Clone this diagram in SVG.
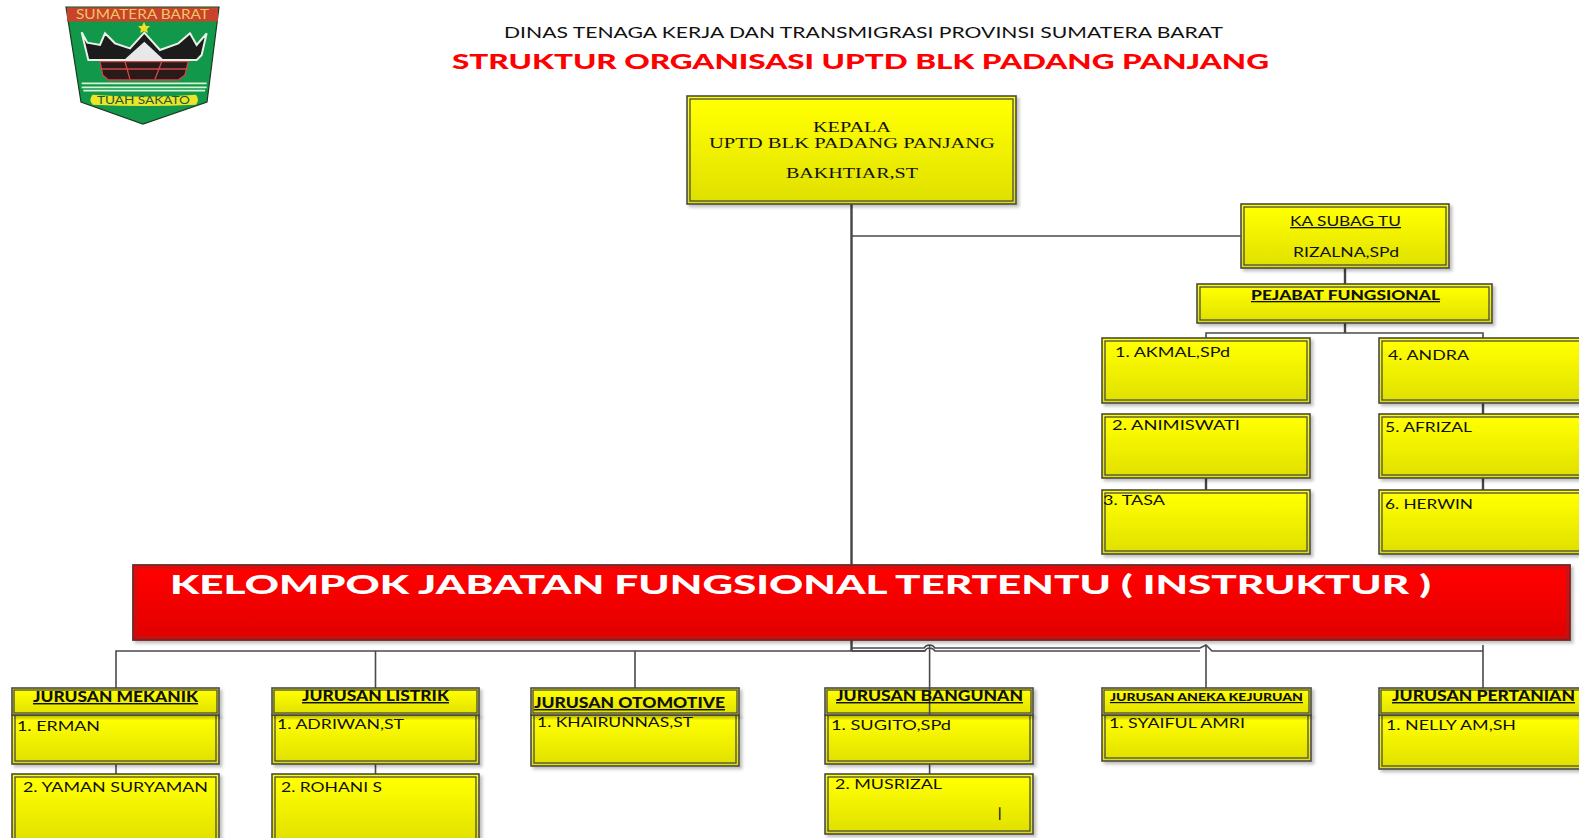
<svg xmlns="http://www.w3.org/2000/svg" width="1579" height="838" viewBox="0 0 1579 838">
<style>
text{font-family:"Lato","Liberation Sans",sans-serif;fill:#111}
.s{font-family:"Liberation Serif",serif;font-size:14.500px;fill:#111}
.n{font-size:13px}
.h{font-size:14.500px;font-weight:900;text-decoration:underline}
.o{fill:url(#y);stroke:#4a4a4a;stroke-width:1.600;filter:url(#sh)}
.i{fill:none;stroke:#4a4a4a;stroke-width:1.300}
.c{fill:none;stroke:#4a4a4a;stroke-width:1.600}
.t{fill:none;stroke:#444;stroke-width:2.400}
</style>
<defs>
<linearGradient id="y" x1="0" y1="0" x2="0" y2="1"><stop offset="0.1" stop-color="#ffff00"/><stop offset="1" stop-color="#dfdf00"/></linearGradient>
<linearGradient id="r" x1="0" y1="0" x2="0" y2="1"><stop offset="0.1" stop-color="#ff0000"/><stop offset="1" stop-color="#e00000"/></linearGradient>
<filter id="sh" x="-5%" y="-5%" width="112%" height="120%"><feDropShadow dx="2.500" dy="2.500" stdDeviation="1.500" flood-color="#000" flood-opacity="0.25"/></filter>
</defs>

<g id="logo">
<polygon points="66,7 219,7 207,102 143,124 81,102" fill="#12984a" stroke="#1a3a20" stroke-width="1.200"/>
<rect x="67" y="7.500" width="151" height="14" fill="#c8422c"/>
<text x="76" y="19" font-size="13" textLength="133" lengthAdjust="spacingAndGlyphs" style="fill:#ecc860">SUMATERA BARAT</text>
<polygon points="144,22 146,26 150,26 147,29 148,33 144,31 140,33 141,29 138,26 142,26" fill="#f2e020"/>
<g transform="translate(50 0) scale(0.3333)">
<path d="M95,97 L112,128 L150,135 L165,100 L195,130 L240,145 L283,98 L330,150 L385,130 L420,100 L440,135 L470,100 L455,165 L440,180 L115,180 Z" fill="#1c1c1c" stroke="#e8f4e8" stroke-width="6"/>
<polygon points="283,125 222,180 342,180" fill="#e8e8e8"/>
<polygon points="150,185 415,185 405,225 385,240 175,240 158,225" fill="#2a1a1a" stroke="#d04848" stroke-width="4"/>
<path d="M156,207 H410 M225,185 L240,238 M335,185 L315,238" fill="none" stroke="#d04848" stroke-width="4"/>
<path d="M95,250 H470 M95,262 H470 M100,272 H465" fill="none" stroke="#d8f2d8" stroke-width="5"/>
<path d="M128,284 Q280,296 438,284 Q450,300 438,314 Q280,322 128,314 Q114,300 128,284 Z" fill="#ece428"/>
</g>
<text x="97" y="104" font-size="10.500" textLength="93" lengthAdjust="spacingAndGlyphs" style="fill:#1a5a30">TUAH SAKATO</text>
</g>

<g id="titles">
<text x="504" y="38" font-size="15.500" textLength="719" lengthAdjust="spacingAndGlyphs">DINAS TENAGA KERJA DAN TRANSMIGRASI PROVINSI SUMATERA BARAT</text>
<text x="452" y="68.500" font-size="20" font-weight="900" textLength="817" lengthAdjust="spacingAndGlyphs" style="fill:#ff0000">STRUKTUR ORGANISASI UPTD BLK PADANG PANJANG</text>
</g>

<g id="connectors">
<path class="t" d="M851.500,204 V565 M851.500,640 V651"/>
<path class="c" d="M851.500,236 H1241"/>
<path class="t" d="M1345,268 V284 M1345,323 V333"/>
<path class="c" d="M1206,338 V333 H1483 V338"/>
<path class="t" d="M1206,478 V490 M1483,403 V414 M1483,478 V490"/>
<path class="c" d="M116,688 V651 H925 M851.500,648 H924 Q926,645 929.600,645 Q933,645 935,648 H1200 L1206,645 L1212,651 H1483"/>
<path class="c" d="M851.500,651 H925 Q926,648 929.600,648 Q933,648 935,651 H1200 M375.500,651 V688 M635,651 V688 M929.600,645 V688 M1206,645 V688 M1483,645 V688"/>
<path class="c" d="M116,764 V774 M375.500,764 V774 M929.600,764 V774"/>
</g>

<g id="kepala">
<rect class="o" x="687" y="96" width="329" height="108"/><rect class="i" x="690" y="99" width="323" height="102"/>
<text class="s" x="813" y="132" textLength="78" lengthAdjust="spacingAndGlyphs">KEPALA</text>
<text class="s" x="709" y="148" textLength="286" lengthAdjust="spacingAndGlyphs">UPTD BLK PADANG PANJANG</text>
<text class="s" x="786" y="178" textLength="132" lengthAdjust="spacingAndGlyphs">BAKHTIAR,ST</text>
</g>
<g id="ka-subag">
<rect class="o" x="1241" y="204" width="208" height="64"/><rect class="i" x="1244" y="207" width="202" height="58"/>
<text class="n" x="1290" y="226" textLength="111" lengthAdjust="spacingAndGlyphs" text-decoration="underline">KA SUBAG TU</text>
<text class="n" x="1293" y="257" textLength="106" lengthAdjust="spacingAndGlyphs">RIZALNA,SPd</text>
</g>
<g id="pejabat">
<rect class="o" x="1197" y="284" width="295" height="39"/><rect class="i" x="1200" y="287" width="289" height="33"/>
<text class="h" x="1251" y="300" textLength="189" lengthAdjust="spacingAndGlyphs" style="font-size:13px">PEJABAT FUNGSIONAL</text>
</g>
<g id="p1"><rect class="o" x="1102" y="338" width="208" height="65"/><rect class="i" x="1105" y="341" width="202" height="59"/>
<text class="n" x="1115" y="357" textLength="115" lengthAdjust="spacingAndGlyphs">1. AKMAL,SPd</text></g>
<g id="p2"><rect class="o" x="1102" y="414" width="208" height="64"/><rect class="i" x="1105" y="417" width="202" height="58"/>
<text class="n" x="1112" y="430" textLength="128" lengthAdjust="spacingAndGlyphs">2. ANIMISWATI</text></g>
<g id="p3"><rect class="o" x="1102" y="490" width="208" height="64"/><rect class="i" x="1105" y="493" width="202" height="58"/>
<text class="n" x="1103" y="505" textLength="62" lengthAdjust="spacingAndGlyphs">3. TASA</text></g>
<g id="p4"><rect class="o" x="1379" y="338" width="240" height="65"/><rect class="i" x="1382" y="341" width="234" height="59"/>
<text class="n" x="1388" y="360" textLength="81" lengthAdjust="spacingAndGlyphs">4. ANDRA</text></g>
<g id="p5"><rect class="o" x="1379" y="414" width="240" height="64"/><rect class="i" x="1382" y="417" width="234" height="58"/>
<text class="n" x="1385" y="432" textLength="87" lengthAdjust="spacingAndGlyphs">5. AFRIZAL</text></g>
<g id="p6"><rect class="o" x="1379" y="490" width="240" height="64"/><rect class="i" x="1382" y="493" width="234" height="58"/>
<text class="n" x="1385" y="509" textLength="88" lengthAdjust="spacingAndGlyphs">6. HERWIN</text></g>

<g id="kelompok">
<rect x="133" y="565" width="1437" height="75" fill="url(#r)" stroke="#6a2a2a" stroke-width="1.800" filter="url(#sh)"/>
<rect x="136" y="568" width="1431" height="69" fill="none" stroke="#a82020" stroke-width="1.200"/>
<text x="170" y="594" font-size="27" font-weight="900" textLength="1261" lengthAdjust="spacingAndGlyphs" style="fill:#fff">KELOMPOK JABATAN FUNGSIONAL TERTENTU ( INSTRUKTUR )</text>
</g>

<g id="mekanik">
<rect class="o" x="12" y="715" width="207" height="49"/><rect class="i" x="15" y="715" width="201" height="46"/>
<rect class="o" x="12" y="688" width="207" height="27"/><rect class="i" x="14" y="690" width="203" height="23"/>
<text class="h" x="33" y="702" textLength="165" lengthAdjust="spacingAndGlyphs">JURUSAN MEKANIK</text>
<text class="n" x="17" y="731" textLength="83" lengthAdjust="spacingAndGlyphs">1. ERMAN</text>
</g>
<g id="mekanik-2"><rect class="o" x="12" y="774" width="207" height="70"/><rect class="i" x="15" y="777" width="201" height="64"/>
<text class="n" x="23" y="792" textLength="185" lengthAdjust="spacingAndGlyphs">2. YAMAN SURYAMAN</text></g>

<g id="listrik">
<rect class="o" x="272" y="715" width="207" height="49"/><rect class="i" x="275" y="715" width="201" height="46"/>
<rect class="o" x="272" y="688" width="207" height="27"/><rect class="i" x="274" y="690" width="203" height="23"/>
<text class="h" x="302" y="701" textLength="147" lengthAdjust="spacingAndGlyphs">JURUSAN LISTRIK</text>
<text class="n" x="277" y="729" textLength="127" lengthAdjust="spacingAndGlyphs">1. ADRIWAN,ST</text>
</g>
<g id="listrik-2"><rect class="o" x="272" y="774" width="207" height="70"/><rect class="i" x="275" y="777" width="201" height="64"/>
<text class="n" x="281" y="792" textLength="101" lengthAdjust="spacingAndGlyphs">2. ROHANI S</text></g>

<g id="otomotive">
<rect class="o" x="531" y="715" width="208" height="51"/><rect class="i" x="534" y="715" width="202" height="48"/>
<rect class="o" x="531" y="688" width="208" height="27"/><rect class="i" x="533" y="690" width="204" height="23"/>
<text class="h" x="534" y="708" textLength="191" lengthAdjust="spacingAndGlyphs">JURUSAN OTOMOTIVE</text>
<text class="n" x="537" y="727" textLength="156" lengthAdjust="spacingAndGlyphs">1. KHAIRUNNAS,ST</text>
</g>

<g id="bangunan">
<rect class="o" x="825" y="715" width="208" height="49"/><rect class="i" x="828" y="715" width="202" height="46"/>
<rect class="o" x="825" y="688" width="208" height="27"/><rect class="i" x="827" y="690" width="204" height="23"/>
<path class="c" d="M929.600,688 V715"/>
<text class="h" x="836" y="701" textLength="187" lengthAdjust="spacingAndGlyphs">JURUSAN BANGUNAN</text>
<text class="n" x="831" y="730" textLength="120" lengthAdjust="spacingAndGlyphs">1. SUGITO,SPd</text>
</g>
<g id="bangunan-2"><rect class="o" x="825" y="774" width="208" height="60"/><rect class="i" x="828" y="777" width="202" height="54"/>
<text class="n" x="835" y="789" textLength="107" lengthAdjust="spacingAndGlyphs">2. MUSRIZAL</text>
<text class="n" x="998" y="818" style="font-weight:700">|</text></g>

<g id="aneka">
<rect class="o" x="1102" y="715" width="209" height="46"/><rect class="i" x="1105" y="715" width="203" height="43"/>
<rect class="o" x="1102" y="688" width="209" height="27"/><rect class="i" x="1104" y="690" width="205" height="23"/>
<text class="h" x="1110" y="701" textLength="193" lengthAdjust="spacingAndGlyphs" style="font-size:12px">JURUSAN ANEKA KEJURUAN</text>
<text class="n" x="1109" y="728" textLength="136" lengthAdjust="spacingAndGlyphs">1. SYAIFUL AMRI</text>
</g>

<g id="pertanian">
<rect class="o" x="1379" y="715" width="240" height="54"/><rect class="i" x="1382" y="715" width="234" height="51"/>
<rect class="o" x="1379" y="688" width="240" height="27"/><rect class="i" x="1381" y="690" width="236" height="23"/>
<text class="h" x="1392" y="701" textLength="183" lengthAdjust="spacingAndGlyphs">JURUSAN PERTANIAN</text>
<text class="n" x="1386" y="730" textLength="130" lengthAdjust="spacingAndGlyphs">1. NELLY AM,SH</text>
</g>
</svg>
